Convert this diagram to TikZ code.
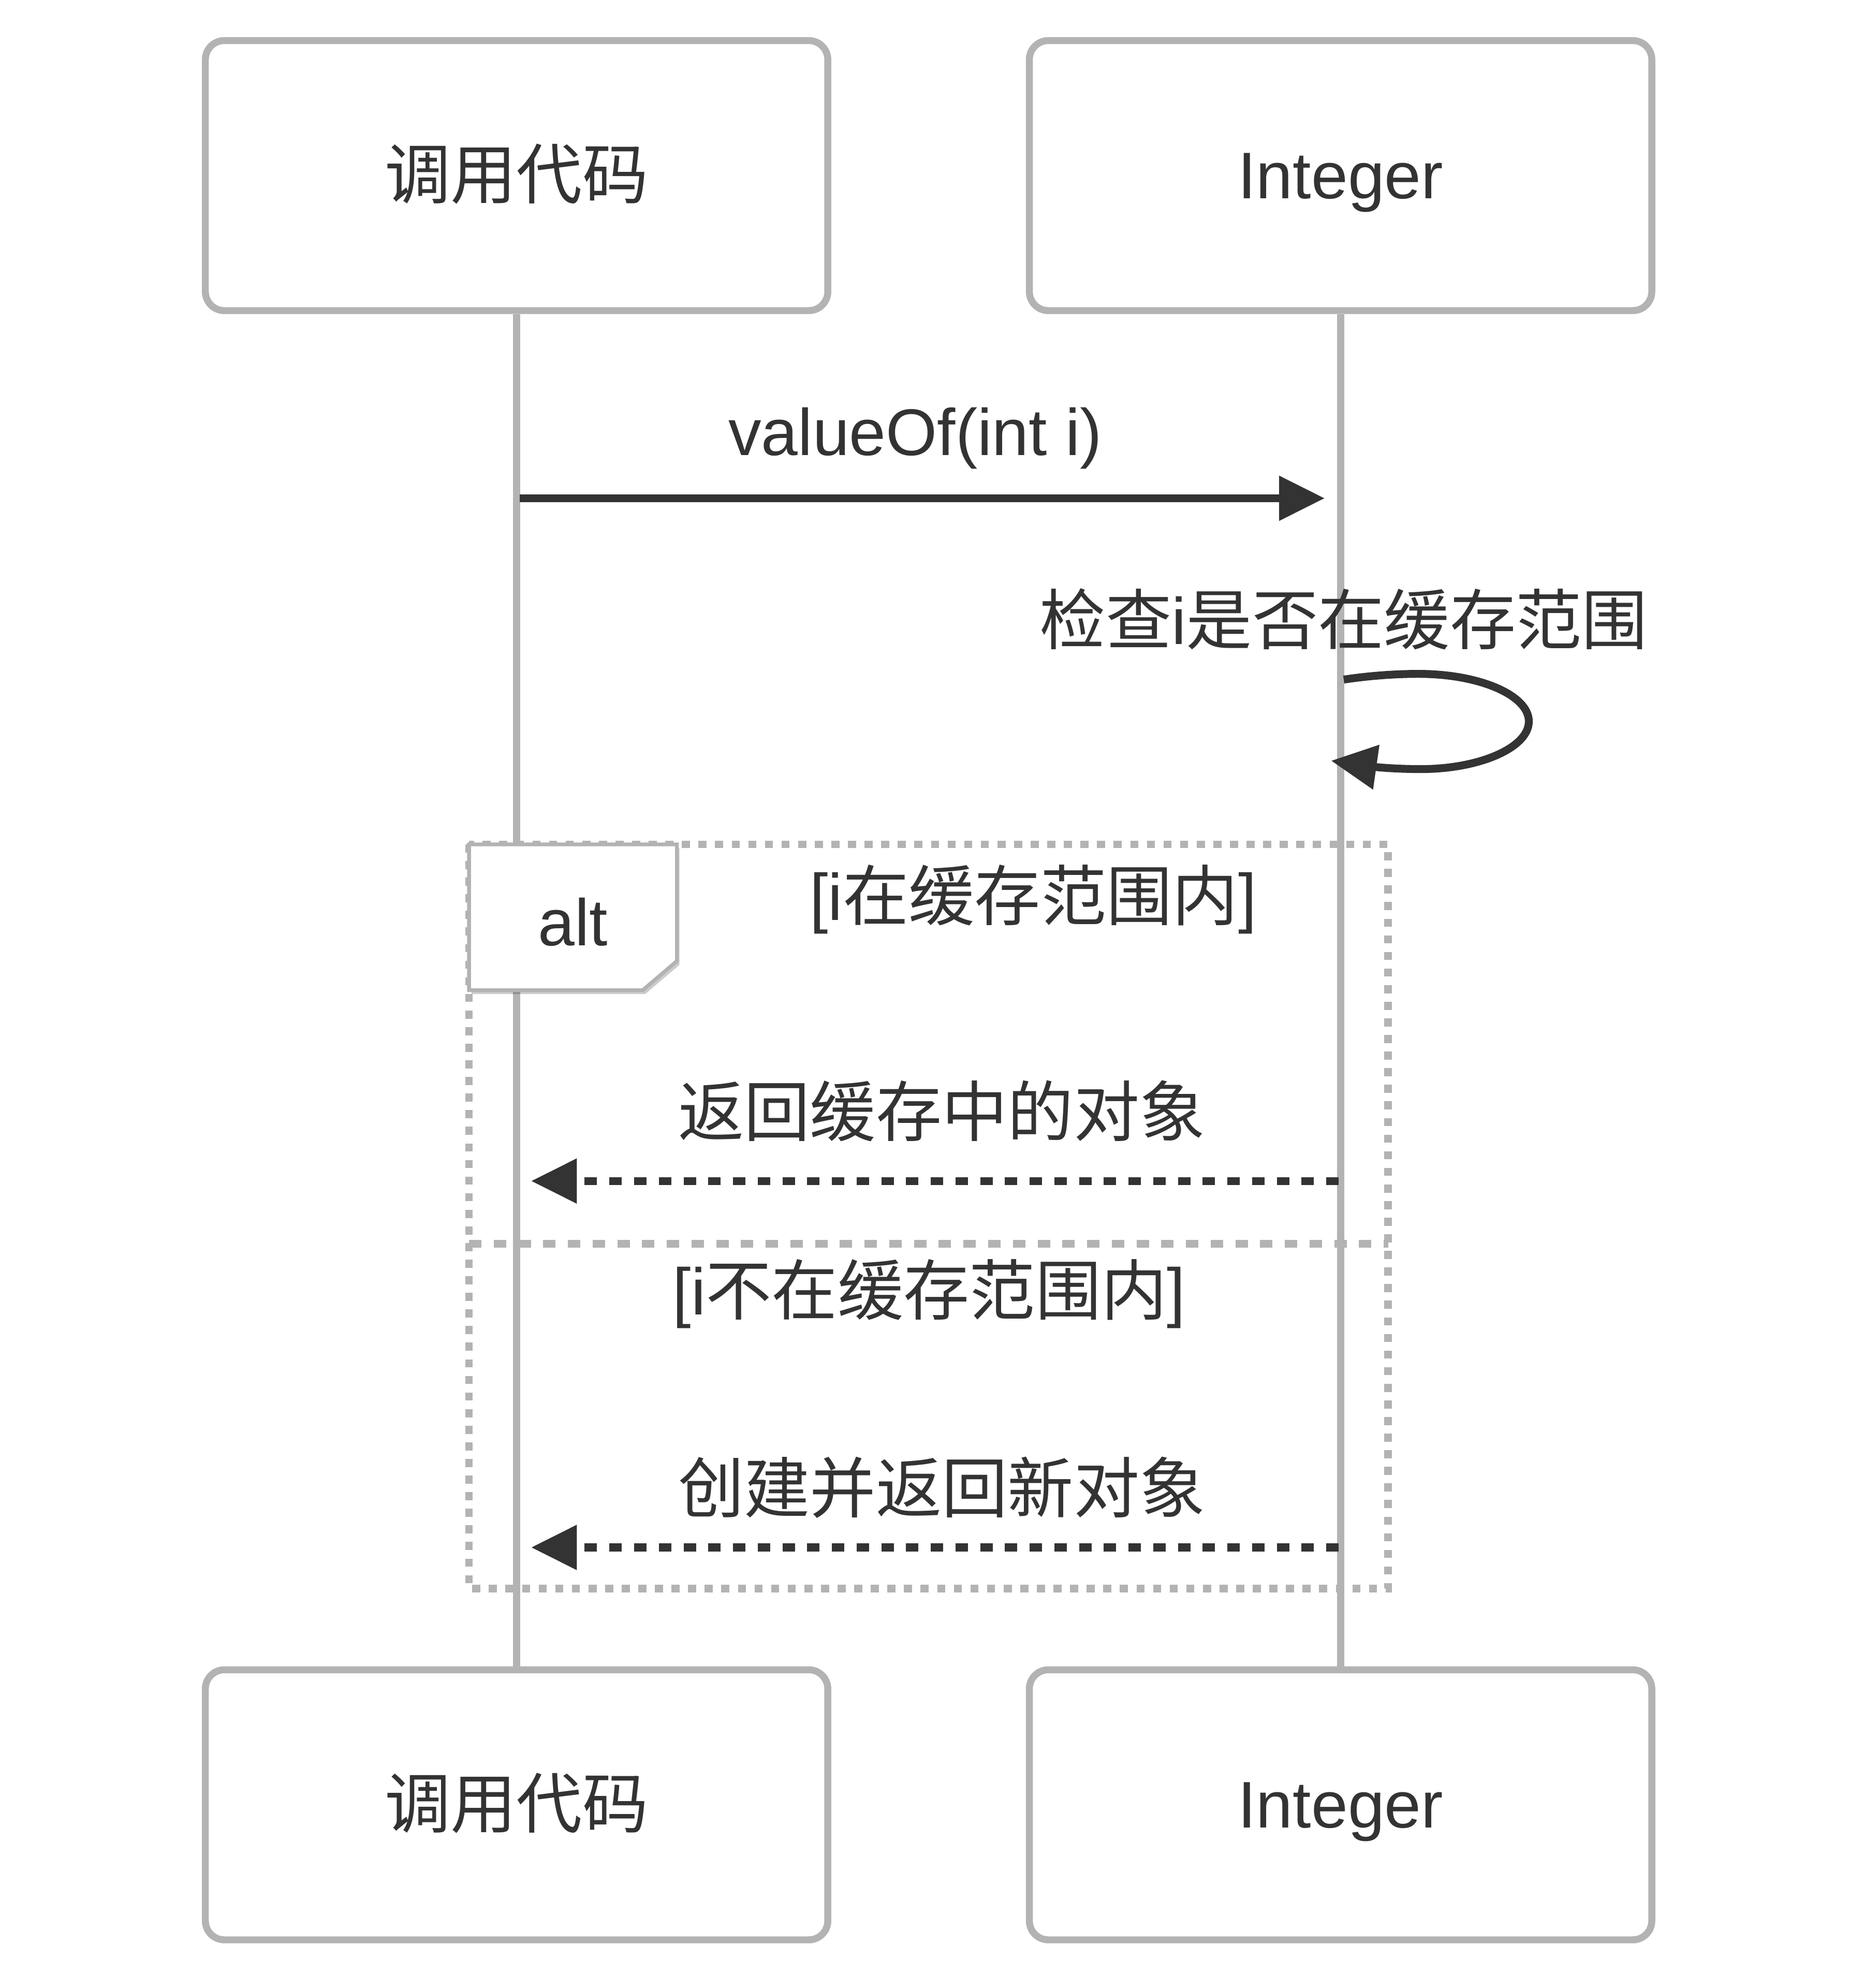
\documentclass[tikz,border=0pt]{standalone}
\usepackage{fontspec}
\setmainfont{Liberation Sans}
\newfontfamily\cjk{Noto Sans CJK SC}
\usetikzlibrary{arrows.meta,shadows}
\definecolor{ink}{HTML}{333333}
\definecolor{edge}{HTML}{B3B3B3}
\begin{document}
\begin{tikzpicture}[x=1pt,y=-1pt,
  lbl/.style={font=\fontsize{52}{60}\selectfont, text=ink, inner sep=0pt},
  actor/.style={lbl, draw=edge, line width=5.5pt, rounded corners=15pt, fill=white,
    minimum width=491pt, minimum height=213pt, text height=36pt, text depth=0pt},
  life/.style={draw=edge, line width=5.5pt},
  msg/.style={draw=ink, line width=6.2pt, -{Triangle[length=36pt,width=34pt]}},
  reply/.style={msg, dash pattern=on 9.8pt off 9.7pt},
  frame/.style={draw=edge, line width=6pt, dash pattern=on 6.4pt off 6.7pt},
  sepline/.style={draw=edge, line width=6pt, dash pattern=on 9.8pt off 9.7pt},
  altbox/.style={draw=edge, line width=3pt, fill=white,
    drop shadow={shadow xshift=2pt, shadow yshift=-3pt, opacity=0.2, fill=black}}
]
\useasboundingbox (0,0) rectangle (1470,1568);
\fill[white] (0,0) rectangle (1470,1568);

% actors
\node[actor] (a1) at (407.5,138.5) {\cjk 调用代码};
\node[actor] (b1) at (1057.5,138.5) {Integer};
\node[actor] (a2) at (407.5,1423.5) {\cjk 调用代码};
\node[actor] (b2) at (1057.5,1423.5) {Integer};

% lifelines
\draw[life] (a1.south) -- (a2.north);
\draw[life] (b1.south) -- (b2.north);

% alt frame
\coordinate (fTL) at (370,666);
\coordinate (fBR) at (1095,1253);
\draw[frame] (fTL) rectangle (fBR);
\coordinate (sepL) at (370,981);
\coordinate (sepR) at (1095,981);
\draw[sepline] (sepL) -- (sepR);
\path[altbox] (370,666) -- (534,666) -- (534,758) -- (507,781) -- (370,781) -- cycle;
\node[lbl, anchor=base] (alt) at (452,746) {alt};

% message 1
\coordinate (m1s) at (410,393);
\coordinate (m1e) at (1045,393);
\draw[msg] (m1s) -- (m1e);
\node[lbl, anchor=base] (t1) at (722,359) {valueOf(int i)};

% self message
\node[lbl, anchor=base] (t2) at (1060,508) {{\cjk 检查}i{\cjk 是否在缓存范围}};
\coordinate (s1) at (1060,536);
\coordinate (s2) at (1050,600);
\draw[msg]
  (s1) .. controls (1080,533) and (1100,531.5) .. (1119,531.5)
       .. controls (1167,531.5) and (1206,548.3) .. (1206,569)
       .. controls (1206,589.7) and (1167,606.6) .. (1121,606.6)
       .. controls (1100,606.6) and (1085,605) .. (s2);

% guards
\node[lbl, anchor=base] (g1) at (815,726) {[i{\cjk 在缓存范围内}]};
\node[lbl, anchor=base] (g2) at (733,1037) {[i{\cjk 不在缓存范围内}]};

% replies
\coordinate (r1s) at (1056,931.5);
\coordinate (r1e) at (419,931.5);
\draw[reply] (r1s) -- (r1e);
\node[lbl, anchor=base] (t3) at (743,896) {\cjk 返回缓存中的对象};

\coordinate (r2s) at (1056,1220.5);
\coordinate (r2e) at (419,1220.5);
\draw[reply] (r2s) -- (r2e);
\node[lbl, anchor=base] (t4) at (743,1193) {\cjk 创建并返回新对象};
\end{tikzpicture}
\end{document}
